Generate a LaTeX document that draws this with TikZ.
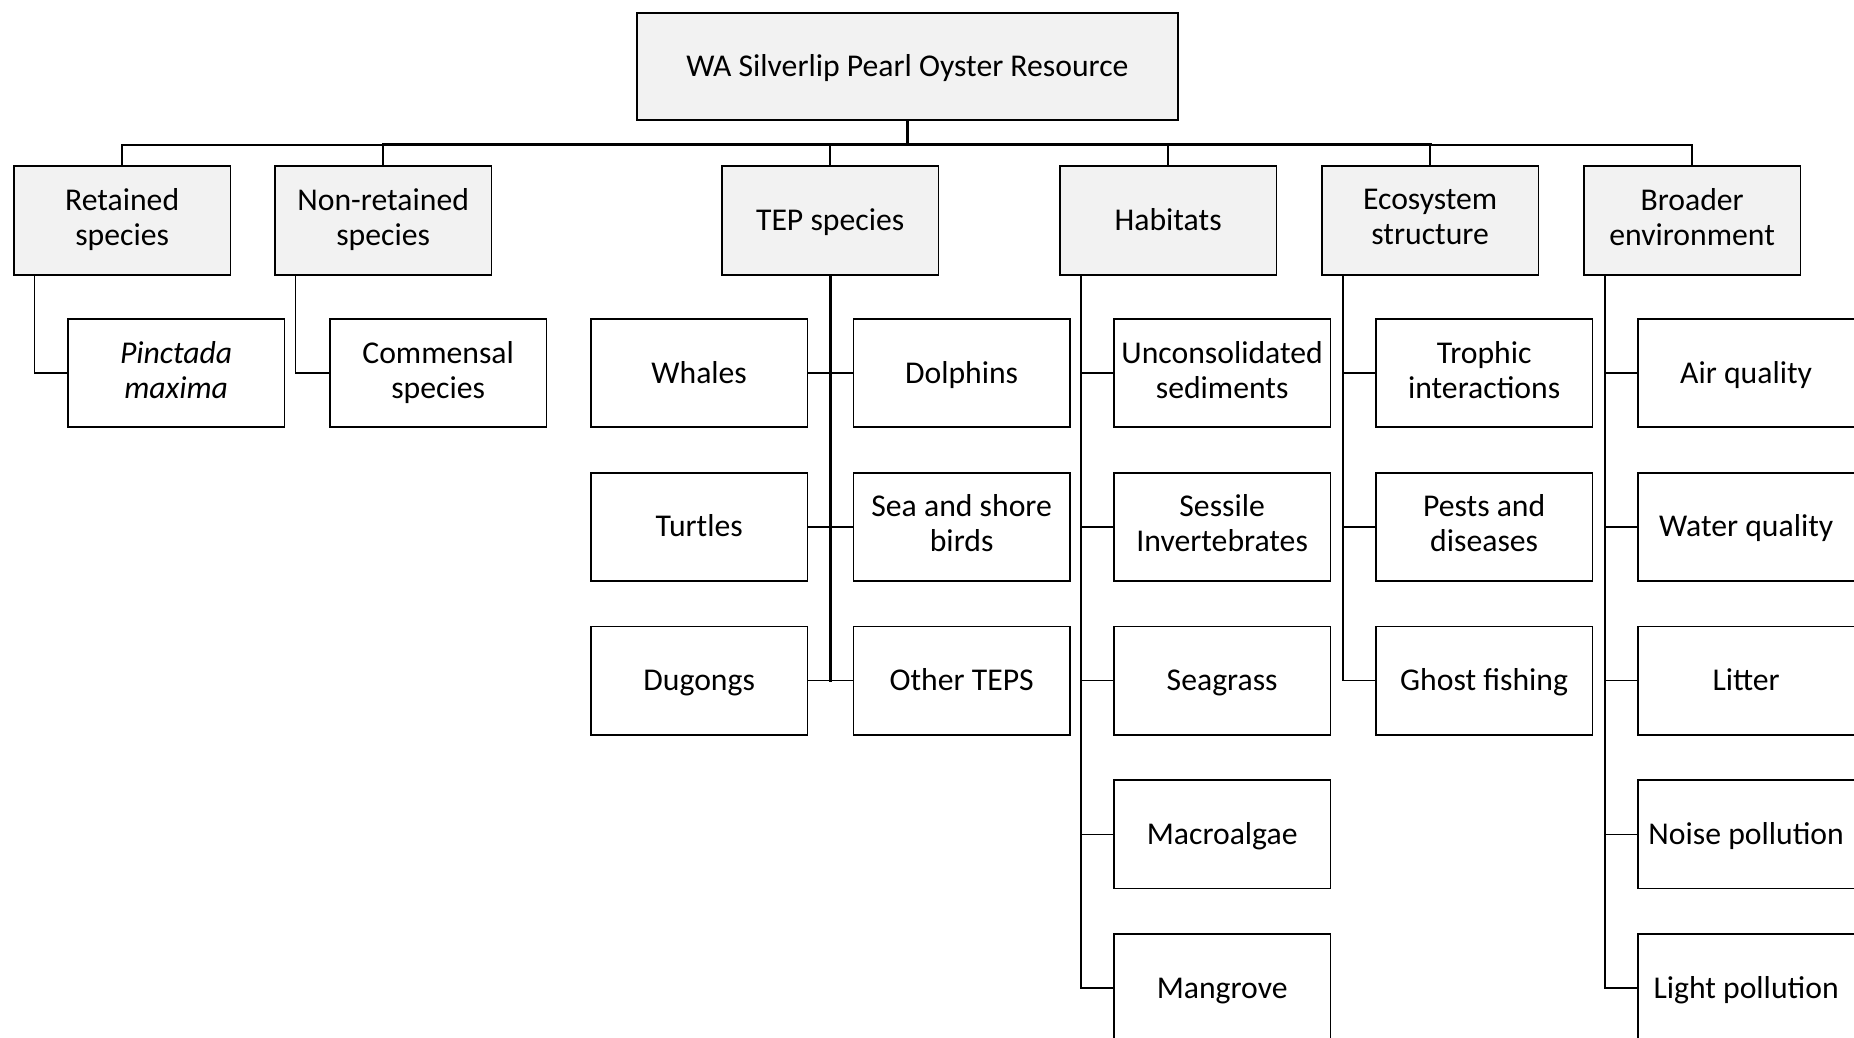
\documentclass[tikz,border=0pt]{standalone}
\usepackage{fontspec}
\setmainfont{Carlito}
\usetikzlibrary{calc}
\definecolor{catfill}{HTML}{F2F2F2}
\newcommand\topstrut{\rule{0pt}{13.6pt}}
\newcommand\botstrut{\rule[-3.6pt]{0pt}{3.6pt}}
\begin{document}
\begin{tikzpicture}[x=0.5pt,y=-0.5pt,
  box/.style={draw=black,line width=0.9pt,inner sep=0pt,minimum width=108.25pt,
    minimum height=54.2pt,anchor=north west,align=center,
    font=\fontsize{15.85}{17.5}\selectfont,
    execute at begin node=\topstrut,execute at end node=\botstrut},
  cat/.style={box,fill=catfill},
  leaf/.style={box,fill=white},
  link/.style={line width=0.8pt,line cap=rect},
  spine/.style={line width=1.5pt,line cap=rect}]
\useasboundingbox (0,0) rectangle (1854,1038);

% root
\node[cat,minimum width=270.5pt,minimum height=53.7pt] (top) at (636,12)
  {WA Silverlip Pearl Oyster Resource};

% categories
\node[cat] (ret) at (13,165.5)   {Retained\\species};
\node[cat] (non) at (274,165.5)  {Non-retained\\species};
\node[cat] (tep) at (721,165.5)  {TEP species};
\node[cat] (hab) at (1059,165.5) {Habitats};
\node[cat] (eco) at (1321,165.5) {Ecosystem\\structure};
\node[cat] (bro) at (1583,165.5) {Broader\\environment};

% retained / non-retained
\node[leaf] (pin) at (67,318)  {\itshape Pinctada\\\itshape maxima};
\node[leaf] (com) at (329,318) {Commensal\\species};

% TEP species
\node[leaf] (wha) at (590,318)     {Whales};
\node[leaf] (dol) at (852.5,318)   {Dolphins};
\node[leaf] (tur) at (590,471.8)   {Turtles};
\node[leaf] (sea) at (852.5,471.8) {Sea and shore\\birds};
\node[leaf] (dug) at (590,625.5)   {Dugongs};
\node[leaf] (oth) at (852.5,625.5) {Other TEPS};

% habitats
\node[leaf] (unc) at (1113,318)   {Unconsolidated\\sediments};
\node[leaf] (ses) at (1113,471.8) {Sessile\\Invertebrates};
\node[leaf] (seg) at (1113,625.5) {Seagrass};
\node[leaf] (mac) at (1113,779.2) {Macroalgae};
\node[leaf] (man) at (1113,932.9) {Mangrove};

% ecosystem structure
\node[leaf] (tro) at (1375,318)   {Trophic\\interactions};
\node[leaf] (pes) at (1375,471.8) {Pests and\\diseases};
\node[leaf] (gho) at (1375,625.5) {Ghost fishing};

% broader environment
\node[leaf] (air) at (1637,318)   {Air quality};
\node[leaf] (wat) at (1637,471.8) {Water quality};
\node[leaf] (lit) at (1637,625.5) {Litter};
\node[leaf] (noi) at (1637,779.2) {Noise pollution};
\node[leaf] (lig) at (1637,932.9) {Light pollution};

% root to categories
\coordinate (bus) at ($(top.south)+(0,23.6)$);
\foreach \c in {ret,non,tep,hab,eco,bro}
  \draw[link] (bus) -| (\c.north);
\draw[spine] (top.south) -- (bus);
\draw[spine] (bus -| non.north) -- (bus -| eco.north);

% single-child stems
\draw[link] ($(ret.south west)+(21.5,0)$) |- (pin.west);
\draw[link] ($(non.south west)+(21.5,0)$) |- (com.west);

% TEP spine and rows
\draw[spine] (tep.south) -- (tep.south |- oth.west);
\draw[link] (wha.east) -- (dol.west);
\draw[link] (tur.east) -- (sea.west);
\draw[link] (dug.east) -- (oth.west);

% habitats spine
\draw[spine] ($(hab.south west)+(22,0)$) -- ($(hab.south west)+(22,0)$ |- man.west);
\foreach \c in {unc,ses,seg,mac,man}
  \draw[link] ($(hab.south west)+(22,0)$) |- (\c.west);

% ecosystem structure spine
\draw[spine] ($(eco.south west)+(22,0)$) -- ($(eco.south west)+(22,0)$ |- gho.west);
\foreach \c in {tro,pes,gho}
  \draw[link] ($(eco.south west)+(22,0)$) |- (\c.west);

% broader environment spine
\draw[spine] ($(bro.south west)+(22,0)$) -- ($(bro.south west)+(22,0)$ |- lig.west);
\foreach \c in {air,wat,lit,noi,lig}
  \draw[link] ($(bro.south west)+(22,0)$) |- (\c.west);
\end{tikzpicture}
\end{document}
